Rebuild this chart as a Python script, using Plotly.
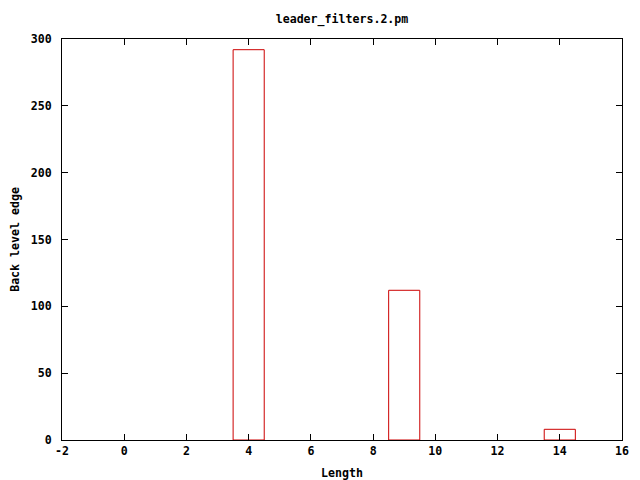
import plotly.graph_objects as go

lengths = [4, 9, 14]
values = [292, 112, 8]
x_ticks = [-2, 0, 2, 4, 6, 8, 10, 12, 14, 16]
y_ticks = [0, 50, 100, 150, 200, 250, 300]

font = dict(family="DejaVu Sans Mono", size=11.6, color="black")

fig = go.Figure(go.Bar(
    x=lengths, y=values, width=1,
    marker=dict(color="rgba(0,0,0,0)", line=dict(color="#cc0000", width=1)),
))

axis_common = dict(showgrid=False, zeroline=False, ticks="inside", ticklen=6,
                   tickcolor="black", mirror="ticks", showline=True,
                   linecolor="black", linewidth=1, tickfont=font,
                   automargin=False)

fig.update_layout(
    width=632, height=472,
    margin=dict(l=54, r=18, t=31, b=40),
    paper_bgcolor="white", plot_bgcolor="white",
    title=dict(text="<b>leader_filters.2.pm</b>", xref="paper", x=0.5,
               xanchor="center", y=1 - 11/472, yanchor="middle", font=font),
    xaxis=dict(range=[-2, 16], tickvals=x_ticks,
               ticktext=[f"<b>{v}</b>" for v in x_ticks],
               title=dict(text="<b>Length</b>", font=font, standoff=12),
               **axis_common),
    yaxis=dict(range=[0, 300], tickvals=y_ticks,
               ticktext=[f"<b>{v}</b>&nbsp;" for v in y_ticks],
               title=dict(text="<b>Back level edge</b>", font=font, standoff=10),
               **axis_common),
    showlegend=False,
)

fig.write_html("out.html")
